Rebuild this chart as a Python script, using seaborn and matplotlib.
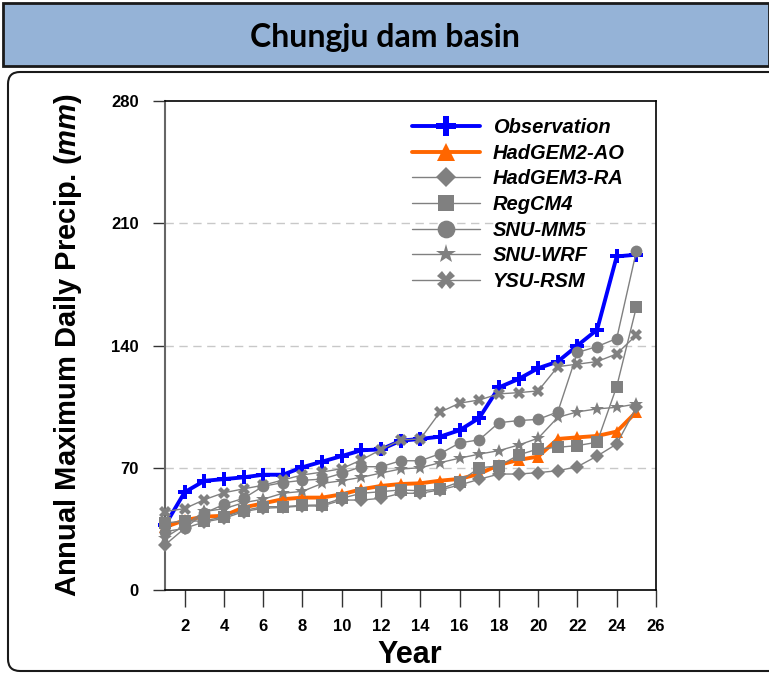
import matplotlib
matplotlib.use("Agg")
import matplotlib.pyplot as plt
import seaborn as sns
import pandas as pd
from matplotlib.patches import Rectangle, FancyBboxPatch

years = list(range(1, 26))
observation = [37, 56, 62.5, 63.5, 64.5, 66, 66, 70.3, 73.5, 76.7, 80, 80.5, 85.5, 86.5, 87.8,
               91.5, 98.5, 116, 120.8, 127, 130.8, 140, 149, 191, 192]
hadgem2_ao = [36, 40, 42, 42.5, 47.3, 49.6, 52, 52.9, 52.9, 54.8, 57.7, 59.6, 60.7, 61.1, 62.6,
              63.6, 66.5, 71.6, 74.5, 76.4, 86.5, 87.4, 88.2, 90.7, 102]
hadgem3_ra = [25.8, 35.3, 39, 41, 44.9, 46.8, 47.3, 48.1, 48.1, 51.5, 51.5, 52.5, 55.4, 55.4, 57.3,
              60.1, 63.4, 66.4, 66.4, 67.2, 68.3, 70.6, 76.7, 83.6, 104.6]
regcm4 = [38.4, 39.5, 39.5, 42, 45.5, 47.7, 47.7, 48.5, 48.7, 52.5, 55.4, 56.3, 57.3, 56.8, 57.7,
          62, 70, 71, 77.3, 80.8, 81.7, 82.7, 84.6, 116.5, 162]
snu_mm5 = [33.4, 35.3, 44, 49, 52.5, 59.4, 61.5, 62.8, 63.5, 66.8, 70.6, 70.6, 74, 74, 78,
           84.2, 86, 95.8, 97, 97.7, 102, 136, 139.4, 144, 194]
snu_wrf = [30, 37, 45, 46.5, 50, 52, 55.4, 56.5, 61, 62.6, 64.5, 67, 69.3, 70, 72.9,
           75.5, 77.8, 79.8, 83, 86.9, 98.9, 102, 103.7, 104.6, 106.5]
ysu_rsm = [44.9, 46.6, 51.7, 55.7, 57.9, 60, 63, 65.9, 67.5, 69.5, 74.5, 80.4, 85.9, 86.5, 101.8,
           107, 108.8, 112.3, 113, 114, 127.9, 129.3, 130.8, 135.2, 146]

series_names = ["Observation", "HadGEM2-AO", "HadGEM3-RA", "RegCM4", "SNU-MM5", "SNU-WRF", "YSU-RSM"]
series_values = [observation, hadgem2_ao, hadgem3_ra, regcm4, snu_mm5, snu_wrf, ysu_rsm]
y_ticks = [0, 70, 140, 210, 280]
x_ticks = list(range(2, 27, 2))

styles = {
    "Observation": dict(color="#0000FF", lw=2.8, marker="P", ms=10),
    "HadGEM2-AO": dict(color="#FF6600", lw=2.8, marker="^", ms=8.5),
    "HadGEM3-RA": dict(color="#808080", lw=1.0, marker="D", ms=7),
    "RegCM4": dict(color="#808080", lw=1.0, marker="s", ms=8),
    "SNU-MM5": dict(color="#808080", lw=1.0, marker="o", ms=8.5),
    "SNU-WRF": dict(color="#808080", lw=1.0, marker="*", ms=10),
    "YSU-RSM": dict(color="#808080", lw=1.0, marker="X", ms=8.5),
}

sns.set_theme(style="white")
plt.rcParams["font.family"] = ["Liberation Sans", "DejaVu Sans"]
plt.rcParams["mathtext.fontset"] = "custom"
plt.rcParams["mathtext.it"] = "Liberation Sans:bold:italic"
plt.rcParams["mathtext.rm"] = "Liberation Sans:bold"
plt.rcParams["text.color"] = "black"
plt.rcParams["xtick.color"] = "black"
plt.rcParams["ytick.color"] = "black"
plt.rcParams["axes.labelcolor"] = "black"

fig = plt.figure(figsize=(7.69, 6.74), dpi=100)

# title bar
fig.patches.append(Rectangle((0.004, 1 - 66 / 674), 0.996, 63 / 674, transform=fig.transFigure,
                             facecolor="#95B3D7", edgecolor="#1a1a1a", lw=2, zorder=-2))
fig.text(0.5, 1 - 38 / 674, "Chungju dam basin", ha="center", va="center",
         fontsize=23, fontweight="bold", family=["Lato", "DejaVu Sans"])
# rounded panel
fig.patches.append(FancyBboxPatch((0.08, 0.03), 8.5, 5.99, boxstyle="round,pad=0,rounding_size=0.12",
                                  transform=fig.dpi_scale_trans, facecolor="white",
                                  edgecolor="#1a1a1a", lw=1.5, zorder=-2))

ax = fig.add_axes([165 / 769, 1 - 590 / 674, (656 - 165) / 769, (590 - 101) / 674])
ax.set_zorder(2)
ax.set_facecolor("white")

long = pd.DataFrame({
    "Year": years * len(series_names),
    "Value": [v for vals in series_values for v in vals],
    "Model": [n for n in series_names for _ in years],
})

for name in series_names:
    st = styles[name]
    sub = long[long["Model"] == name]
    sns.lineplot(data=sub, x="Year", y="Value", ax=ax, color=st["color"], lw=st["lw"],
                 marker=st["marker"], markersize=st["ms"], markeredgewidth=0,
                 markerfacecolor=st["color"], label=name, zorder=3, clip_on=False)

for yv in y_ticks[1:-1]:
    ax.axhline(yv, color="#C8C8C8", lw=1.0, ls=(0, (6, 4)), zorder=1)

ax.set_xlim(1, 26)
ax.set_ylim(0, 280)
ax.set_xticks(x_ticks)
ax.set_yticks(y_ticks)
ax.set_xticklabels([str(t) for t in x_ticks], fontsize=12, fontweight="bold")
ax.set_yticklabels([str(t) for t in y_ticks], fontsize=12, fontweight="bold")
ax.tick_params(axis="x", direction="out", length=12, width=1, color="#333333", pad=9, bottom=True)
ax.tick_params(axis="y", direction="out", length=9, width=1, color="#333333", pad=10, left=True)
ax.set_xlabel("")
ax.set_ylabel("")
for side in ["top", "right", "bottom"]:
    ax.spines[side].set_color("black")
    ax.spines[side].set_linewidth(1.2)
ax.spines["left"].set_color("#666666")
ax.spines["left"].set_linewidth(1.5)

leg = ax.legend(loc="upper left", bbox_to_anchor=(412 / 769, 1 - 118 / 674),
                bbox_transform=fig.transFigure, frameon=False, borderpad=0, borderaxespad=0,
                handlelength=3.4, handletextpad=0.6, labelspacing=0.33, markerscale=1.5,
                prop=dict(family="Liberation Sans", weight="bold", style="italic", size=14.5))

fig.text(410 / 769, 1 - 655 / 674, "Year", ha="center", va="center", fontsize=22, fontweight="bold")
fig.text(68 / 769, 1 - 345 / 674, r"Annual Maximum Daily Precip. ($\mathit{mm}$)", rotation=90,
         ha="center", va="center", fontsize=21, fontweight="bold")

fig.savefig("out.png", dpi=100)
